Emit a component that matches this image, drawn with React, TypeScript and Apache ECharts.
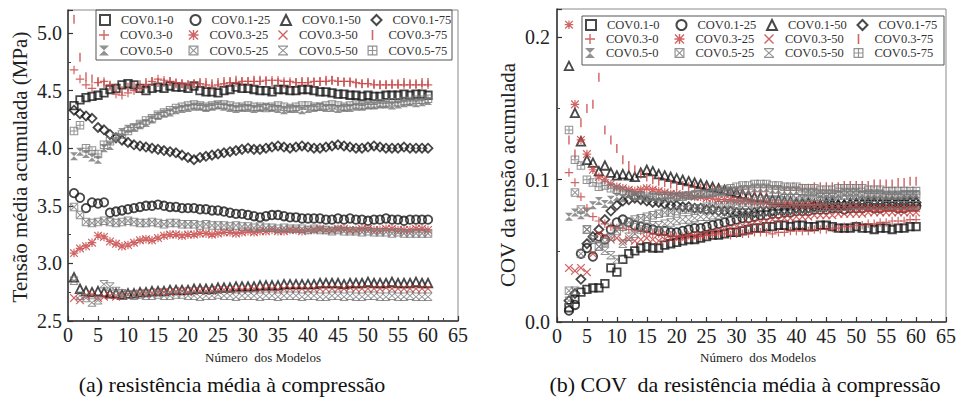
import React, { useEffect, useRef } from "react";
import * as echarts from "echarts";

const SERIF = "Liberation Serif";

const seriesNames = [
  "COV0.1-0", "COV0.1-25", "COV0.1-50", "COV0.1-75",
  "COV0.3-0", "COV0.3-25", "COV0.3-50", "COV0.3-75",
  "COV0.5-0", "COV0.5-25", "COV0.5-50", "COV0.5-75",
];

const xName = "Número  dos Modelos";
const yNameLeft = "Tensão média acumulada (MPa)";
const yNameRight = "COV da tensão acumulada";
const captionA = "(a) resistência média à compressão";
const captionB = "(b) COV  da resistência média à compressão";

// ---- (a) cumulative mean strength, models 1..60 ----
const mean01_0 = [4.37,4.42,4.44,4.45,4.46,4.48,4.51,4.52,4.55,4.56,4.55,4.52,4.50,4.52,4.53,4.52,4.54,4.53,4.53,4.52,4.54,4.50,4.49,4.49,4.48,4.50,4.51,4.53,4.52,4.52,4.51,4.50,4.50,4.49,4.51,4.51,4.50,4.50,4.51,4.51,4.50,4.49,4.49,4.48,4.47,4.47,4.46,4.46,4.45,4.46,4.45,4.45,4.46,4.46,4.46,4.47,4.46,4.47,4.47,4.46];
const mean01_25 = [3.61,3.57,3.48,3.53,3.52,3.53,3.44,3.45,3.46,3.47,3.48,3.49,3.50,3.50,3.51,3.50,3.49,3.49,3.48,3.48,3.48,3.47,3.47,3.46,3.46,3.45,3.44,3.43,3.43,3.42,3.41,3.40,3.41,3.42,3.42,3.41,3.40,3.40,3.39,3.39,3.39,3.39,3.38,3.38,3.39,3.38,3.39,3.38,3.38,3.37,3.38,3.38,3.39,3.38,3.38,3.37,3.38,3.38,3.38,3.38];
const mean01_50 = [2.88,2.78,2.76,2.75,2.76,2.75,2.74,2.74,2.73,2.74,2.74,2.75,2.75,2.76,2.76,2.76,2.77,2.77,2.77,2.77,2.78,2.78,2.78,2.78,2.79,2.79,2.79,2.80,2.80,2.80,2.80,2.81,2.81,2.81,2.81,2.82,2.82,2.82,2.82,2.82,2.82,2.83,2.83,2.83,2.83,2.82,2.83,2.83,2.83,2.84,2.83,2.83,2.83,2.84,2.83,2.83,2.83,2.84,2.83,2.83];
const mean01_75 = [4.33,4.30,4.28,4.26,4.18,4.16,4.12,4.09,4.07,4.05,4.03,4.02,4.01,4.00,3.99,3.98,3.97,3.96,3.94,3.92,3.90,3.92,3.93,3.94,3.95,3.96,3.97,3.98,3.99,4.00,3.99,3.99,4.00,4.01,4.02,4.01,4.00,4.01,4.02,4.01,4.00,4.00,4.01,4.02,4.03,4.02,4.01,4.00,4.00,4.01,4.02,4.01,4.00,4.00,4.00,4.01,4.00,4.00,4.00,4.00];
const mean03_0 = [4.68,4.60,4.55,4.52,4.57,4.58,4.55,4.47,4.46,4.48,4.50,4.52,4.55,4.58,4.60,4.59,4.58,4.57,4.56,4.55,4.56,4.56,4.55,4.54,4.55,4.56,4.57,4.57,4.58,4.58,4.58,4.58,4.59,4.59,4.59,4.58,4.58,4.57,4.57,4.57,4.58,4.58,4.58,4.59,4.58,4.58,4.58,4.57,4.56,4.56,4.55,4.55,4.55,4.55,4.55,4.55,4.55,4.55,4.55,4.55];
const mean03_25 = [3.09,3.13,3.15,3.18,3.24,3.23,3.19,3.17,3.15,3.16,3.18,3.20,3.21,3.20,3.22,3.24,3.25,3.25,3.24,3.25,3.25,3.26,3.26,3.25,3.26,3.27,3.27,3.26,3.27,3.28,3.27,3.28,3.28,3.29,3.28,3.28,3.29,3.29,3.28,3.29,3.29,3.30,3.29,3.29,3.30,3.30,3.29,3.29,3.30,3.30,3.29,3.29,3.30,3.30,3.29,3.29,3.29,3.30,3.30,3.29];
const mean03_50 = [2.70,2.68,2.72,2.73,2.70,2.71,2.72,2.71,2.72,2.73,2.73,2.74,2.74,2.74,2.75,2.75,2.75,2.75,2.76,2.75,2.76,2.76,2.76,2.76,2.77,2.77,2.77,2.77,2.77,2.77,2.78,2.77,2.78,2.78,2.77,2.78,2.78,2.78,2.78,2.77,2.78,2.78,2.78,2.78,2.78,2.78,2.79,2.78,2.78,2.78,2.78,2.78,2.79,2.78,2.78,2.78,2.78,2.78,2.78,2.78];
const mean03_75 = [5.12,4.79,4.62,4.60,4.58,4.56,4.54,4.52,4.50,4.53,4.54,4.55,4.57,4.58,4.57,4.57,4.58,4.56,4.56,4.55,4.56,4.57,4.57,4.56,4.57,4.58,4.58,4.59,4.58,4.58,4.59,4.59,4.58,4.57,4.57,4.56,4.56,4.57,4.58,4.58,4.57,4.58,4.59,4.59,4.58,4.57,4.57,4.56,4.56,4.57,4.56,4.55,4.55,4.56,4.56,4.57,4.56,4.56,4.57,4.57];
const mean05_0 = [3.93,3.97,3.95,3.92,3.90,4.00,4.02,4.10,4.14,4.17,4.18,4.20,4.22,4.25,4.28,4.30,4.31,4.33,4.34,4.35,4.36,4.36,4.35,4.36,4.37,4.36,4.35,4.34,4.35,4.35,4.34,4.35,4.36,4.35,4.34,4.33,4.34,4.34,4.33,4.34,4.35,4.36,4.35,4.35,4.34,4.35,4.35,4.36,4.36,4.37,4.37,4.38,4.38,4.37,4.38,4.39,4.40,4.39,4.40,4.41];
const mean05_25 = [3.49,3.42,3.36,3.35,3.36,3.37,3.36,3.35,3.36,3.37,3.36,3.35,3.35,3.36,3.35,3.34,3.35,3.35,3.34,3.34,3.34,3.33,3.34,3.33,3.33,3.33,3.32,3.33,3.32,3.32,3.31,3.32,3.31,3.31,3.30,3.31,3.30,3.30,3.30,3.29,3.30,3.29,3.29,3.28,3.29,3.28,3.28,3.28,3.27,3.28,3.27,3.27,3.27,3.26,3.27,3.26,3.26,3.26,3.26,3.26];
const mean05_50 = [2.85,2.72,2.70,2.66,2.68,2.82,2.80,2.76,2.74,2.73,2.72,2.73,2.72,2.72,2.73,2.72,2.72,2.73,2.73,2.72,2.72,2.71,2.72,2.72,2.73,2.72,2.72,2.71,2.72,2.72,2.72,2.71,2.72,2.72,2.71,2.72,2.72,2.72,2.71,2.72,2.72,2.71,2.71,2.72,2.72,2.71,2.72,2.71,2.71,2.72,2.72,2.71,2.71,2.72,2.71,2.71,2.72,2.71,2.71,2.71];
const mean05_75 = [4.15,4.20,4.00,3.98,3.95,4.03,4.06,4.09,4.12,4.15,4.18,4.21,4.24,4.26,4.29,4.31,4.33,4.35,4.36,4.37,4.38,4.37,4.36,4.37,4.38,4.38,4.37,4.36,4.36,4.37,4.36,4.36,4.35,4.36,4.37,4.36,4.35,4.36,4.37,4.37,4.36,4.36,4.37,4.38,4.37,4.36,4.37,4.38,4.37,4.38,4.38,4.39,4.39,4.40,4.40,4.41,4.41,4.42,4.42,4.43];

// ---- (b) COV of cumulative strength, models 2..60 ----
const cov01_0 = [0.010,0.016,0.021,0.023,0.024,0.024,0.027,0.038,0.035,0.044,0.048,0.050,0.052,0.053,0.052,0.052,0.054,0.055,0.056,0.057,0.058,0.058,0.059,0.060,0.061,0.061,0.062,0.063,0.063,0.064,0.065,0.066,0.066,0.067,0.067,0.068,0.068,0.067,0.068,0.068,0.067,0.067,0.068,0.068,0.067,0.066,0.066,0.066,0.067,0.066,0.066,0.065,0.066,0.066,0.065,0.066,0.066,0.067,0.067];
const cov01_25 = [0.008,0.012,0.048,0.052,0.046,0.060,0.058,0.065,0.070,0.072,0.070,0.068,0.067,0.066,0.065,0.064,0.064,0.063,0.063,0.064,0.065,0.066,0.066,0.067,0.068,0.069,0.070,0.071,0.072,0.073,0.073,0.074,0.075,0.075,0.076,0.076,0.077,0.077,0.078,0.078,0.078,0.079,0.079,0.079,0.080,0.080,0.079,0.080,0.080,0.080,0.081,0.080,0.080,0.081,0.081,0.080,0.080,0.081,0.081];
const cov01_50 = [0.180,0.147,0.127,0.114,0.112,0.106,0.110,0.105,0.103,0.104,0.103,0.102,0.105,0.107,0.106,0.104,0.103,0.102,0.101,0.100,0.099,0.098,0.097,0.096,0.095,0.094,0.093,0.092,0.091,0.090,0.089,0.088,0.088,0.087,0.086,0.086,0.085,0.085,0.084,0.084,0.084,0.083,0.083,0.084,0.084,0.083,0.083,0.084,0.084,0.084,0.085,0.085,0.084,0.085,0.085,0.084,0.085,0.085,0.085];
const cov01_75 = [0.015,0.020,0.030,0.055,0.060,0.065,0.072,0.078,0.082,0.085,0.086,0.087,0.086,0.085,0.084,0.084,0.083,0.082,0.082,0.081,0.081,0.080,0.080,0.079,0.079,0.078,0.078,0.078,0.077,0.077,0.077,0.077,0.078,0.078,0.078,0.079,0.079,0.079,0.080,0.080,0.080,0.081,0.081,0.081,0.082,0.082,0.082,0.082,0.083,0.083,0.083,0.083,0.083,0.083,0.084,0.084,0.083,0.084,0.084];
const cov03_0 = [0.105,0.098,0.088,0.080,0.074,0.071,0.069,0.067,0.066,0.066,0.065,0.064,0.064,0.063,0.062,0.062,0.061,0.061,0.060,0.060,0.061,0.061,0.060,0.061,0.061,0.062,0.062,0.061,0.062,0.062,0.062,0.063,0.063,0.063,0.062,0.063,0.063,0.064,0.064,0.064,0.064,0.065,0.065,0.065,0.066,0.066,0.067,0.067,0.068,0.068,0.069,0.069,0.070,0.070,0.071,0.071,0.071,0.072,0.072];
const cov03_25 = [0.209,0.153,0.128,0.118,0.107,0.102,0.100,0.097,0.095,0.094,0.093,0.092,0.093,0.094,0.093,0.092,0.091,0.090,0.090,0.089,0.089,0.088,0.088,0.087,0.087,0.086,0.086,0.086,0.085,0.085,0.085,0.084,0.084,0.084,0.083,0.083,0.083,0.083,0.082,0.082,0.082,0.082,0.082,0.081,0.081,0.081,0.081,0.081,0.081,0.080,0.080,0.080,0.080,0.080,0.080,0.080,0.080,0.080,0.080];
const cov03_50 = [0.038,0.036,0.038,0.035,0.048,0.062,0.060,0.058,0.059,0.057,0.058,0.057,0.058,0.059,0.058,0.057,0.058,0.058,0.059,0.059,0.060,0.060,0.061,0.062,0.063,0.064,0.065,0.066,0.067,0.068,0.069,0.070,0.070,0.071,0.072,0.072,0.073,0.073,0.074,0.074,0.074,0.075,0.075,0.075,0.075,0.076,0.076,0.076,0.076,0.076,0.077,0.077,0.077,0.077,0.077,0.077,0.077,0.077,0.077];
const cov03_75 = [0.128,0.118,0.140,0.150,0.153,0.172,0.135,0.128,0.122,0.114,0.110,0.107,0.104,0.102,0.100,0.099,0.098,0.097,0.096,0.096,0.095,0.095,0.094,0.094,0.093,0.093,0.093,0.092,0.092,0.092,0.092,0.092,0.092,0.093,0.093,0.093,0.094,0.094,0.094,0.094,0.094,0.095,0.095,0.095,0.095,0.095,0.096,0.096,0.096,0.096,0.096,0.097,0.097,0.097,0.097,0.098,0.098,0.099,0.099];
const cov05_0 = [0.074,0.077,0.075,0.077,0.082,0.085,0.083,0.086,0.088,0.087,0.090,0.088,0.089,0.087,0.088,0.088,0.089,0.089,0.088,0.089,0.089,0.090,0.090,0.090,0.091,0.091,0.091,0.092,0.092,0.093,0.093,0.094,0.094,0.094,0.093,0.093,0.092,0.092,0.092,0.091,0.091,0.091,0.090,0.090,0.090,0.090,0.091,0.091,0.091,0.090,0.090,0.090,0.090,0.089,0.089,0.089,0.090,0.090,0.090];
const cov05_25 = [0.022,0.091,0.079,0.065,0.058,0.053,0.056,0.060,0.064,0.067,0.070,0.072,0.073,0.074,0.075,0.076,0.077,0.077,0.078,0.079,0.079,0.080,0.080,0.081,0.081,0.082,0.082,0.083,0.083,0.084,0.084,0.085,0.085,0.086,0.086,0.086,0.087,0.087,0.087,0.087,0.088,0.088,0.088,0.088,0.088,0.089,0.089,0.089,0.089,0.089,0.089,0.089,0.089,0.089,0.089,0.089,0.089,0.089,0.089];
const cov05_50 = [0.015,0.022,0.048,0.065,0.058,0.053,0.050,0.047,0.044,0.055,0.060,0.062,0.065,0.067,0.068,0.068,0.069,0.070,0.071,0.072,0.072,0.073,0.074,0.074,0.075,0.075,0.076,0.076,0.077,0.077,0.077,0.078,0.078,0.078,0.079,0.079,0.079,0.079,0.080,0.080,0.080,0.080,0.081,0.081,0.081,0.081,0.081,0.082,0.082,0.082,0.082,0.082,0.082,0.082,0.082,0.082,0.082,0.082,0.082];
const cov05_75 = [0.135,0.114,0.110,0.100,0.098,0.095,0.096,0.094,0.093,0.092,0.090,0.089,0.089,0.088,0.088,0.087,0.087,0.087,0.088,0.088,0.089,0.089,0.090,0.090,0.091,0.092,0.093,0.094,0.095,0.096,0.096,0.097,0.097,0.097,0.096,0.096,0.095,0.095,0.095,0.094,0.094,0.094,0.093,0.093,0.093,0.094,0.094,0.094,0.094,0.094,0.093,0.093,0.093,0.092,0.092,0.092,0.092,0.092,0.092];

const meanSets = [mean01_0, mean01_25, mean01_50, mean01_75, mean03_0, mean03_25, mean03_50, mean03_75, mean05_0, mean05_25, mean05_50, mean05_75];
const covSets = [cov01_0, cov01_25, cov01_50, cov01_75, cov03_0, cov03_25, cov03_50, cov03_75, cov05_0, cov05_25, cov05_50, cov05_75];

const BLACK = "#1a1a1a";
const RED = "#c43f3f";
const GRAY = "#777777";

const CORNERS = "M0,0h0.01v0.01h-0.01z M10,10h-0.01v-0.01h0.01z";
const P_RECT = "path://M0,0H10V10H0Z";
const P_TRI = "path://M5,0L10,10H0Z";
const P_DIA = "path://M5,0L10,5L5,10L0,5Z";
const P_PLUS = "path://M4.3,0H5.7V4.3H10V5.7H5.7V10H4.3V5.7H0V4.3H4.3Z";
const P_X = "path://M1,0L5,4L9,0L10,1L6,5L10,9L9,10L5,6L1,10L0,9L4,5L0,1Z";
const P_AST = "path://M4.3,0H5.7V4.3H10V5.7H5.7V10H4.3V5.7H0V4.3H4.3Z M1,0L5,4L9,0L10,1L6,5L10,9L9,10L5,6L1,10L0,9L4,5L0,1Z";
const P_BAR = "path://M4.2,0H5.8V10H4.2Z " + CORNERS;
const P_HOUR = "path://M0,0H10L5,5L10,10H0L5,5Z";
const P_BOXX = "path://M0,0H10V10H0Z M1.2,1.2V8.8H8.8V1.2Z M1.2,2L2,1.2L5,4.2L8,1.2L8.8,2L5.8,5L8.8,8L8,8.8L5,5.8L2,8.8L1.2,8L4.2,5Z";
const P_XBAR = "path://M0,0H10V1.2H0Z M0,8.8H10V10H0Z M1.5,1.2L5,4.2L8.5,1.2H10L5.8,5L10,8.8H8.5L5,5.8L1.5,8.8H0L4.2,5L0,1.2Z";
const P_GRID = "path://M0,0H10V10H0Z M1.2,1.2V8.8H8.8V1.2Z M4.4,1.2H5.6V8.8H4.4Z M1.2,4.4H8.8V5.6H1.2Z";

type Style = { symbol: string; icon: string; color: string; hollow: boolean; size: number };
const styles: Style[] = [
  { symbol: "rect", icon: P_RECT, color: BLACK, hollow: true, size: 7.5 },
  { symbol: "circle", icon: "circle", color: BLACK, hollow: true, size: 8.5 },
  { symbol: "triangle", icon: P_TRI, color: BLACK, hollow: true, size: 8.5 },
  { symbol: "diamond", icon: P_DIA, color: BLACK, hollow: true, size: 9 },
  { symbol: P_PLUS, icon: P_PLUS, color: RED, hollow: false, size: 8.5 },
  { symbol: P_AST, icon: P_AST, color: RED, hollow: false, size: 8.5 },
  { symbol: P_X, icon: P_X, color: RED, hollow: false, size: 8.5 },
  { symbol: P_BAR, icon: P_BAR, color: RED, hollow: false, size: 9 },
  { symbol: P_HOUR, icon: P_HOUR, color: GRAY, hollow: false, size: 8 },
  { symbol: P_BOXX, icon: P_BOXX, color: GRAY, hollow: false, size: 8.5 },
  { symbol: P_XBAR, icon: P_XBAR, color: GRAY, hollow: false, size: 8.5 },
  { symbol: P_GRID, icon: P_GRID, color: GRAY, hollow: false, size: 8.5 },
];

function itemStyleOf(s: Style) {
  return s.hollow
    ? { color: "rgba(255,255,255,0)", borderColor: s.color, borderWidth: 1.8 }
    : { color: s.color, borderWidth: 0 };
}

function buildSeries() {
  const out: any[] = [];
  seriesNames.forEach((name, k) => {
    const s = styles[k];
    out.push({
      type: "scatter",
      name,
      xAxisIndex: 0,
      yAxisIndex: 0,
      symbol: s.symbol,
      symbolSize: s.size,
      itemStyle: itemStyleOf(s),
      data: meanSets[k].map((v, i) => [i + 1, v]),
    });
    out.push({
      type: "scatter",
      name,
      xAxisIndex: 1,
      yAxisIndex: 1,
      symbol: s.symbol,
      symbolSize: s.size,
      itemStyle: itemStyleOf(s),
      data: covSets[k].map((v, i) => [i + 2, v]),
    });
  });
  return out;
}

function xAxisOf(gridIndex: number) {
  return {
    type: "value",
    gridIndex,
    min: 0,
    max: 65,
    interval: 5,
    axisLine: { show: true, onZero: false, lineStyle: { color: "#333", width: 1.5 } },
    axisTick: { show: true, inside: true, length: 5, lineStyle: { color: "#333", width: 1.2 } },
    minorTick: { show: true, splitNumber: 2, length: 3, lineStyle: { color: "#444" } },
    splitLine: { show: false },
    axisLabel: { fontFamily: SERIF, fontSize: 20, color: "#222", margin: 4 },
  };
}

function legendRows(left: number, tops: number[]) {
  const rows = [[0, 1, 2, 3], [4, 5, 6, 7], [8, 9, 10, 11]];
  return rows.map((idx, r) => ({
    data: idx.map((k) => ({ name: seriesNames[k], icon: styles[k].icon })),
    orient: "horizontal",
    left,
    top: tops[r],
    padding: 0,
    itemWidth: 10,
    itemHeight: 10,
    itemGap: 8.5,
    symbolKeepAspect: true,
    selectedMode: false,
    textStyle: { fontFamily: SERIF, fontSize: 12.5, color: "#333", width: 60, lineHeight: 13, padding: [0, 0, 0, 6] },
  }));
}

export default function App() {
  const ref = useRef<HTMLDivElement>(null);
  useEffect(() => {
    if (!ref.current) return;
    const chart = echarts.init(ref.current, undefined, { renderer: "svg" });
    const option: any = {
      animation: false,
      backgroundColor: "#fff",
      grid: [
        { left: 68, top: 10, width: 390, height: 311, show: true, borderColor: "#8a8a8a", borderWidth: 1 },
        { left: 557, top: 9, width: 391, height: 313, show: true, borderColor: "#8a8a8a", borderWidth: 1 },
      ],
      xAxis: [xAxisOf(0), xAxisOf(1)],
      yAxis: [
        {
          type: "value",
          gridIndex: 0,
          min: 2.5,
          max: 5.2,
          interval: 0.5,
          axisLine: { show: true, lineStyle: { color: "#333", width: 1.5 } },
          axisTick: { show: true, inside: true, length: 5, lineStyle: { color: "#333", width: 1.2 } },
          minorTick: { show: true, splitNumber: 2, length: 3, lineStyle: { color: "#444" } },
          splitLine: { show: false },
          axisLabel: {
            fontFamily: SERIF,
            fontSize: 20,
            color: "#222",
            margin: 6,
            formatter: (v: number) => (Math.abs(v * 2 - Math.round(v * 2)) < 1e-6 ? v.toFixed(1) : ""),
          },
        },
        {
          type: "value",
          gridIndex: 1,
          min: 0,
          max: 0.22,
          interval: 0.1,
          axisLine: { show: true, lineStyle: { color: "#333", width: 1.5 } },
          axisTick: { show: true, inside: true, length: 5, lineStyle: { color: "#333", width: 1.2 } },
          minorTick: { show: true, splitNumber: 2, length: 3, lineStyle: { color: "#444" } },
          splitLine: { show: false },
          axisLabel: {
            fontFamily: SERIF,
            fontSize: 20,
            color: "#222",
            margin: 7,
            formatter: (v: number) => (Math.abs(v * 10 - Math.round(v * 10)) < 1e-6 ? v.toFixed(1) : ""),
          },
        },
      ],
      legend: [...legendRows(99, [13.5, 28.5, 44]), ...legendRows(585, [18.5, 32.5, 46.5])],
      series: buildSeries(),
      graphic: [
        { type: "rect", z: 10, shape: { x: 96, y: 10, width: 356, height: 50 }, style: { fill: "none", stroke: "#555", lineWidth: 1 } },
        { type: "rect", z: 10, shape: { x: 582, y: 16, width: 362, height: 49 }, style: { fill: "none", stroke: "#555", lineWidth: 1 } },
        { type: "text", x: 20, y: 167, rotation: Math.PI / 2, style: { text: yNameLeft, fontFamily: SERIF, fontSize: 21, fill: "#222", align: "center", verticalAlign: "middle" } },
        { type: "text", x: 508, y: 175, rotation: Math.PI / 2, style: { text: yNameRight, fontFamily: SERIF, fontSize: 21, fill: "#222", align: "center", verticalAlign: "middle" } },
        { type: "text", x: 263, y: 357, style: { text: xName, fontFamily: SERIF, fontSize: 13, fill: "#222", align: "center", verticalAlign: "middle" } },
        { type: "text", x: 758, y: 357, style: { text: xName, fontFamily: SERIF, fontSize: 13, fill: "#222", align: "center", verticalAlign: "middle" } },
        { type: "text", x: 232, y: 384, style: { text: captionA, fontFamily: SERIF, fontSize: 22, fill: "#111", align: "center", verticalAlign: "middle" } },
        { type: "text", x: 745, y: 384, style: { text: captionB, fontFamily: SERIF, fontSize: 22, fill: "#111", align: "center", verticalAlign: "middle" } },
      ],
    };
    chart.setOption(option);
    return () => chart.dispose();
  }, []);
  return <div ref={ref} style={{ width: 959, height: 405, position: "absolute", left: 0, top: 0 }} />;
}
